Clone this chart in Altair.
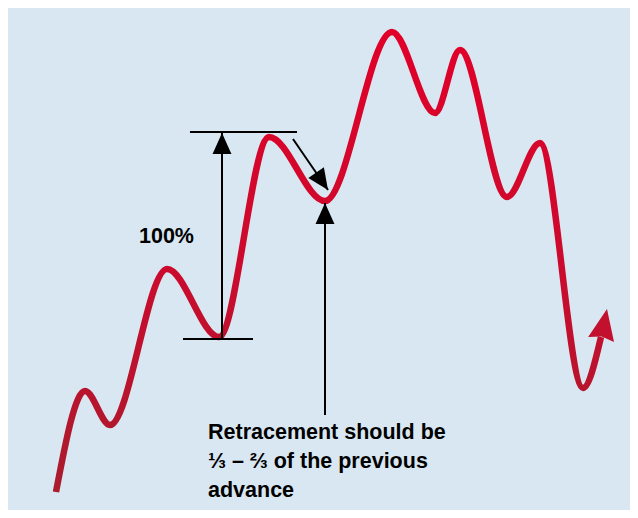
import altair as alt
import pandas as pd

# ---- data (diagram units: x to the right, level upward) ----
curve_x = [48, 77, 102, 159, 211, 261, 317, 384, 427, 452, 499, 532, 575, 593]
curve_y = [18, 119, 85, 241, 173, 373, 309, 478, 397, 460, 313, 367, 122, 173]

# red arrowhead at the end of the curve
head_x = [599]
head_y = [201]
head_angle = [11]

# black reference lines (horizontal)
hline_x = [182, 175]
hline_x2 = [289, 245]
hline_y = [378, 171]

# black arrows: start -> tip
arrow_x = [214, 285, 317]
arrow_y = [171, 371, 95]
arrow_tx = [214, 320, 317]
arrow_ty = [377, 320, 307]
arrow_angle = [0, 145.5, 0]

label_100 = "100%"
label_100_x, label_100_y = 131, 267
note_lines = ["Retracement should be", "\u2153 \u2013 \u2154 of the previous", "advance"]
note_x, note_y = 200, 71.5

W, H = 622, 502
BG = "#d8e7f1"
FONT = "Liberation Sans, Arial, sans-serif"

xs = alt.Scale(domain=[0, W], nice=False, zero=False)
ys = alt.Scale(domain=[0, H], nice=False, zero=False)


def X(f="x"):
    return alt.X(f"{f}:Q", scale=xs, axis=None)


def Y(f="y"):
    return alt.Y(f"{f}:Q", scale=ys, axis=None)


curve_df = pd.DataFrame({"x": curve_x, "y": curve_y, "o": range(len(curve_x))})
curve = alt.Chart(curve_df).mark_line(
    interpolate="monotone",
    strokeWidth=6.5,
    strokeCap="butt",
    color=alt.Gradient(
        gradient="linear",
        stops=[
            alt.GradientStop(color="#e10029", offset=0),
            alt.GradientStop(color="#cc0a2d", offset=0.5),
            alt.GradientStop(color="#a91c2d", offset=1),
        ],
        x1=0, x2=0, y1=0, y2=1,
    ),
).encode(x=X(), y=Y(), order="o:Q")

head_df = pd.DataFrame({"x": head_x, "y": head_y, "a": head_angle})
red_head = alt.Chart(head_df).mark_point(
    shape="M0,0L0.85,2L0,1.8L-0.85,2Z",
    filled=True,
    opacity=1,
    size=961,
    color="#c3102e",
    strokeWidth=0,
).encode(x=X(), y=Y(), angle=alt.Angle("a:Q", scale=None))

hl_df = pd.DataFrame({"x": hline_x, "x2": hline_x2, "y": hline_y})
hlines = alt.Chart(hl_df).mark_rule(color="black", strokeWidth=2).encode(
    x=X(), x2="x2:Q", y=Y()
)

ar_df = pd.DataFrame(
    {"x": arrow_x, "y": arrow_y, "x2": arrow_tx, "y2": arrow_ty, "a": arrow_angle}
)
shafts = alt.Chart(ar_df).mark_rule(color="black", strokeWidth=2).encode(
    x=X(), y=Y(), x2="x2:Q", y2="y2:Q"
)
heads = alt.Chart(ar_df).mark_point(
    shape="M0,0L0.9,2L-0.9,2Z",
    filled=True,
    opacity=1,
    size=441,
    color="black",
    strokeWidth=0,
).encode(x=X("x2"), y=Y("y2"), angle=alt.Angle("a:Q", scale=None))

t100 = alt.Chart(
    pd.DataFrame({"x": [label_100_x], "y": [label_100_y], "t": [label_100]})
).mark_text(
    align="left", baseline="alphabetic", font=FONT, fontSize=21.5,
    fontWeight="bold", color="black",
).encode(x=X(), y=Y(), text="t:N")

note = alt.Chart(
    pd.DataFrame({"x": [note_x], "y": [note_y], "t": [note_lines]})
).mark_text(
    align="left", baseline="alphabetic", font=FONT, fontSize=21.5,
    fontWeight="bold", color="black", lineHeight=29,
).encode(x=X(), y=Y(), text="t")

chart = (
    alt.layer(curve, red_head, hlines, shafts, heads, t100, note)
    .properties(width=W, height=H, padding=0, autosize="none", background=BG)
    .configure_view(stroke=None, fill=BG)
)

chart.save("out.html", embed_options={"renderer": "svg", "actions": False})
